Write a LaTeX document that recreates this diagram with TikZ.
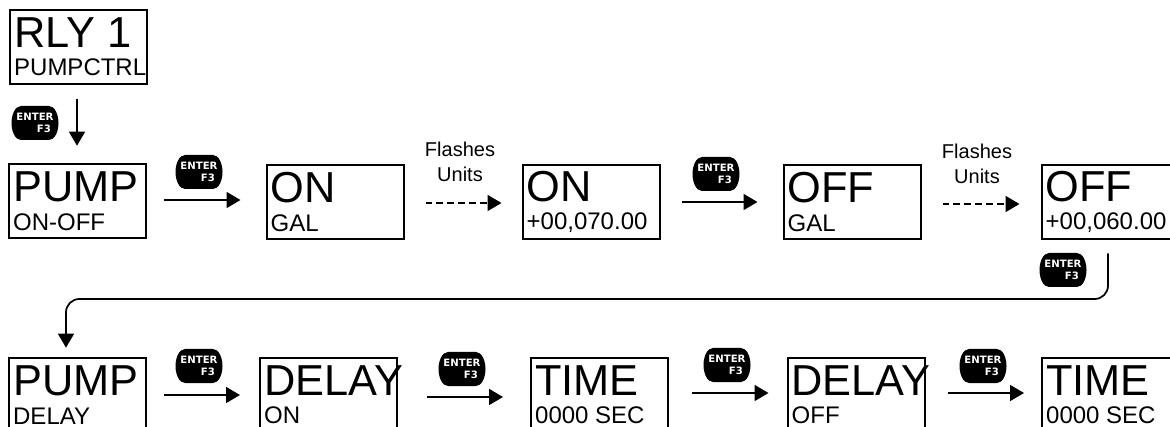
\documentclass[tikz,border=0pt]{standalone}
\usepackage{fontspec}
\setmainfont{Liberation Sans}
\newfontfamily\keyfont{DejaVu Sans}[BoldFont={DejaVu Sans Bold}]
\newcommand{\bigtxt}{\fontsize{32.5}{33}\selectfont\spaceskip=0pt\xspaceskip=0pt }
\newcommand{\smalltxt}{\fontsize{18}{22}\selectfont\spaceskip=0pt\xspaceskip=0pt }
\newcommand{\enterkey}[3]{%
	\begin{scope}[shift={(#2,#3)}]
	\fill[black] (-14,17) -- (14,17) .. controls (20,17) and (23.5,8) .. (23.5,0) .. controls (23.5,-8) and (20,-17) .. (14,-17) -- (-14,-17) .. controls (-20,-17) and (-23.5,-8) .. (-23.5,0) .. controls (-23.5,8) and (-20,17) .. (-14,17) -- cycle;
	\node[keytext] (#1) at (0,0) {ENTER\\F3\kern2pt};
	\end{scope}}
\tikzset{
	x=0.75pt, y=0.75pt,
	dispbox/.style={draw, line width=1.5pt, minimum width=102.75pt, minimum height=56pt, text width=96.5pt, inner sep=0pt},
	keytext/.style={text=white, font=\keyfont\bfseries\fontsize{7.6}{9}\selectfont, align=right, inner sep=0pt},
	flowarrow/.style={line width=1.3pt, -{Triangle[length=10.5pt,width=12pt]}},
	flashdash/.style={dash pattern=on 5.2pt off 3pt},
	flashtext/.style={font=\fontsize{15}{18.75}\selectfont, align=center, inner sep=0pt}
}
\usetikzlibrary{arrows.meta}
\begin{document}
\begin{tikzpicture}
	\useasboundingbox (0,0) rectangle (1170,-427);
	% display boxes
	\node[dispbox] (relay) at (78.5,-47) {\bigtxt RLY 1\\[7.5pt]\smalltxt PUMPCTRL};
	\node[dispbox] (pumpon) at (77.5,-201) {\bigtxt PUMP\\[7.5pt]\smalltxt ON-OFF};
	\node[dispbox] (ongal) at (335,-202) {\bigtxt ON\\[7.5pt]\smalltxt GAL};
	\node[dispbox] (onval) at (591,-202) {\bigtxt ON\\[7.5pt]\smalltxt +00,070.00};
	\node[dispbox] (offgal) at (852,-202) {\bigtxt OFF\\[7.5pt]\smalltxt GAL};
	\node[dispbox] (offval) at (1110,-202) {\bigtxt OFF\\[7.5pt]\smalltxt +00,060.00};
	\node[dispbox] (pumpdelay) at (77.5,-395) {\bigtxt PUMP\\[7.5pt]\smalltxt DELAY};
	\node[dispbox] (delayon) at (328.5,-395) {\bigtxt DELAY\\[7.5pt]\smalltxt ON};
	\node[dispbox] (timeon) at (599.5,-395) {\bigtxt TIME\\[7.5pt]\smalltxt 0000 SEC};
	\node[dispbox] (delayoff) at (856,-395) {\bigtxt DELAY\\[7.5pt]\smalltxt OFF};
	\node[dispbox] (timeoff) at (1110.5,-395) {\bigtxt TIME\\[7.5pt]\smalltxt 0000 SEC};
	% enter keys
	\enterkey{keyrelay}{35}{-123}
	\enterkey{keypump}{199}{-172}
	\enterkey{keyon}{716}{-174}
	\enterkey{keyoff}{1063}{-270}
	\enterkey{keydelay}{199}{-366}
	\enterkey{keytime}{462}{-369}
	\enterkey{keydelayoff}{727}{-365}
	\enterkey{keytimeoff}{983}{-366}
	% flashes labels
	\node[flashtext] (flashon) at (460,-162) {Flashes\\Units};
	\node[flashtext] (flashoff) at (977,-164) {Flashes\\Units};
	% arrows
	\draw[flowarrow] ([shift={(-1.5,-14)}]relay.south) -- ([shift={(-0.5,17)}]pumpon.north);
	\draw[flowarrow] ([shift={(17,1)}]pumpon.east) -- ([shift={(-25,2)}]ongal.west);
	\draw[flowarrow,flashdash] ([shift={(21,-1)}]ongal.east) -- ([shift={(-20,-1)}]onval.west);
	\draw[flowarrow] ([shift={(21,0)}]onval.east) -- ([shift={(-25,0)}]offgal.west);
	\draw[flowarrow,flashdash] ([shift={(21,-2)}]offgal.east) -- ([shift={(-21,-2)}]offval.west);
	\draw[flowarrow] ([shift={(17,0)}]pumpdelay.east) -- ([shift={(-19,0)}]delayon.west);
	\draw[flowarrow] ([shift={(29,-2)}]delayon.east) -- ([shift={(-27,-2)}]timeon.west);
	\draw[flowarrow] ([shift={(23,2)}]timeon.east) -- ([shift={(-18,2)}]delayoff.west);
	\draw[flowarrow] ([shift={(22,2)}]delayoff.east) -- ([shift={(-17,2)}]timeoff.west);
	\draw[flowarrow,rounded corners=10pt] ([shift={(-2,-13)}]offval.south) |- (66,-299) -- ([shift={(-11.5,9)}]pumpdelay.north);
\end{tikzpicture}
\end{document}
